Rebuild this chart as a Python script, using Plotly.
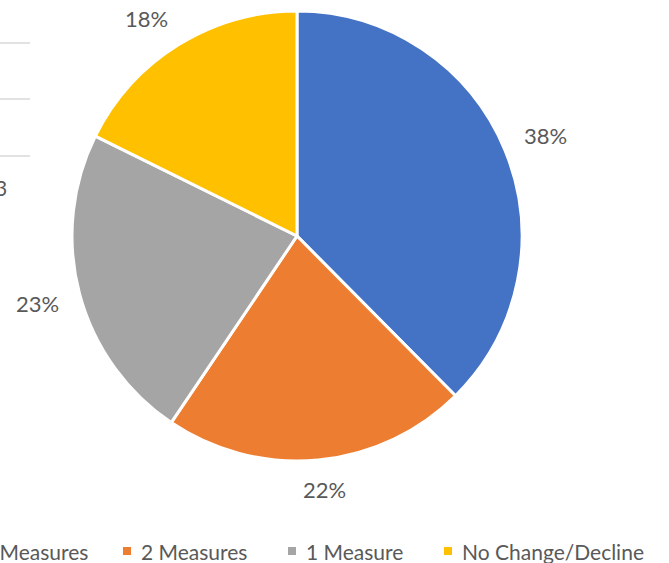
import math
import plotly.graph_objects as go

# Share of units by number of improved measures
categories = ["3 Measures", "2 Measures", "1 Measure", "No Change/Decline"]
shares = [37.6, 21.9, 22.9, 17.7]
colors = ["#4472C4", "#ED7D31", "#A5A5A5", "#FFC000"]

W, H = 669, 563
FONT = "Lato, Liberation Sans, Arial, sans-serif"
TEXT_COLOR = "#595959"


def px_x(x):
    return x / W


def px_y(y):
    return (H - y) / H


# Pie centre and radius in pixels
cx, cy, r = 297, 236, 225

fig = go.Figure(
    go.Pie(
        labels=categories,
        values=shares,
        sort=False,
        direction="clockwise",
        rotation=0,
        marker=dict(colors=colors, line=dict(color="white", width=3)),
        textinfo="none",
        hoverinfo="label+percent",
        showlegend=False,
        domain=dict(x=[px_x(cx - r), px_x(cx + r)], y=[px_y(cy + r), px_y(cy - r)]),
    )
)

shapes = []
annotations = []

# Percentage labels placed just outside each slice, along its mid-angle
total = sum(shares)
label_gap = 22
half_w, half_h = 20.5, 8


def clamp(v):
    return max(-1.0, min(1.0, v))


cum = 0.0
for val in shares:
    mid = (cum + val / 2) / total * 2 * math.pi
    cum += val
    s, c = math.sin(mid), math.cos(mid)
    px = cx + (r + label_gap) * s + half_w * clamp(2 * s)
    py = cy - (r + label_gap) * c + half_h * clamp(-2 * c)
    annotations.append(dict(text=f"{round(val / total * 100)}%", x=px_x(px), y=px_y(py),
                            xref="paper", yref="paper", xanchor="center", yanchor="middle",
                            showarrow=False,
                            font=dict(family=FONT, size=22, color=TEXT_COLOR)))

# Partial gridlines and tick label of the neighbouring chart on the left edge
for gy in [43, 99, 156]:
    shapes.append(dict(type="line", xref="paper", yref="paper",
                       x0=px_x(-5), x1=px_x(30), y0=px_y(gy), y1=px_y(gy),
                       line=dict(color="#D9D9D9", width=1.5)))
annotations.append(dict(text="3", x=px_x(9), y=px_y(187), xref="paper", yref="paper",
                        xanchor="right", yanchor="middle", showarrow=False,
                        font=dict(family=FONT, size=21, color=TEXT_COLOR)))

# Legend row along the bottom
legend_text_x = [-20, 139, 304, 460]
legend_y = 551
for name, col, tx in zip(categories, colors, legend_text_x):
    shapes.append(dict(type="rect", xref="paper", yref="paper",
                       x0=px_x(tx - 16), x1=px_x(tx - 8),
                       y0=px_y(legend_y + 4), y1=px_y(legend_y - 4),
                       fillcolor=col, line=dict(width=0)))
    annotations.append(dict(text=name, x=px_x(tx), y=px_y(legend_y),
                            xref="paper", yref="paper", xanchor="left", yanchor="middle",
                            showarrow=False,
                            font=dict(family=FONT, size=21, color=TEXT_COLOR)))

fig.update_layout(
    width=W, height=H,
    margin=dict(l=0, r=0, t=0, b=0),
    paper_bgcolor="white",
    plot_bgcolor="white",
    shapes=shapes,
    annotations=annotations,
)

fig.write_html("out.html")
